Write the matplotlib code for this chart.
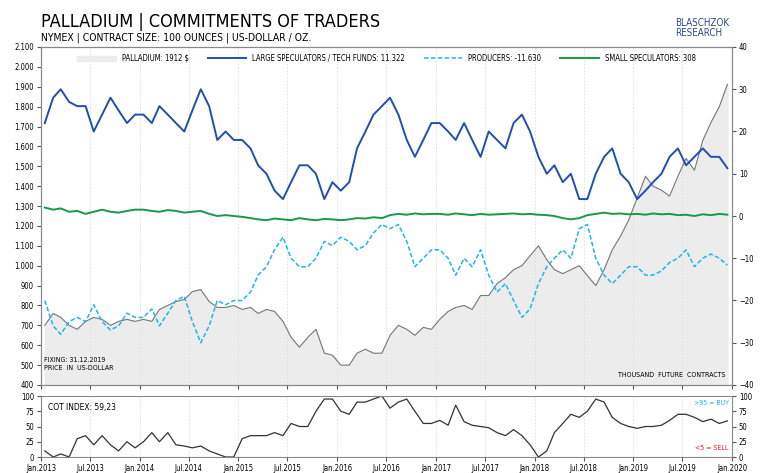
import matplotlib
matplotlib.use("Agg")
import matplotlib.pyplot as plt
import numpy as np
import pandas as pd

plt.rcParams['font.family'] = ['DejaVu Sans']
plt.rcParams['font.stretch'] = 'condensed'

dates = pd.date_range("2013-01-01", periods=84, freq="MS") + pd.Timedelta(days=14)
price = [700,760,740,700,680,720,740,730,700,720,730,720,
         730,720,780,800,820,830,870,880,820,790,790,800,
         780,790,760,780,770,720,640,590,640,680,560,550,
         500,500,560,580,560,560,650,700,680,650,690,680,
         730,770,790,800,780,850,850,910,940,980,1000,1050,
         1100,1030,980,960,980,1000,950,900,980,1080,1150,1230,
         1340,1450,1400,1380,1350,1450,1540,1480,1630,1720,1800,1912]
large = [22,28,30,27,26,26,20,24,28,25,22,24,
         24,22,26,24,22,20,25,30,26,18,20,18,
         18,16,12,10,6,4,8,12,12,10,4,8,
         6,8,16,20,24,26,28,24,18,14,18,22,
         22,20,18,22,18,14,20,18,16,22,24,20,
         14,10,12,8,10,4,4,10,14,16,10,8,
         4,6,8,10,14,16,12,14,16,14,14,11.3]
producers = [-20,-26,-28,-25,-24,-25,-21,-25,-27,-26,-23,-24,
             -24,-22,-26,-23,-20,-19,-25,-30,-26,-20,-21,-20,
             -20,-18,-14,-12,-8,-5,-10,-12,-12,-10,-6,-7,
             -5,-6,-8,-7,-4,-2,-3,-2,-6,-12,-10,-8,
             -8,-10,-14,-10,-12,-8,-14,-18,-16,-20,-24,-22,
             -16,-12,-10,-8,-10,-3,-2,-10,-14,-16,-14,-12,
             -12,-14,-14,-13,-11,-10,-8,-12,-10,-9,-10,-11.63]
small = [2,1.5,1.8,1,1.2,0.5,1,1.5,1,0.8,1.2,1.5,
         1.5,1.2,1,1.4,1.2,0.8,1,1.2,0.5,0,0.2,0,
         -0.2,-0.5,-0.8,-1,-0.6,-0.8,-1,-0.5,-0.8,-1,-0.7,-0.8,
         -1,-0.8,-0.5,-0.6,-0.3,-0.5,0.2,0.5,0.3,0.6,0.4,0.5,
         0.5,0.3,0.6,0.4,0.2,0.5,0.3,0.4,0.5,0.6,0.4,0.5,
         0.3,0.2,0,-0.5,-0.8,-0.5,0.2,0.5,0.8,0.5,0.6,0.4,
         0.5,0.3,0.6,0.4,0.5,0.2,0.3,0,0.4,0.2,0.5,0.308]
cot = [10,0,5,0,30,35,20,35,20,10,25,15,
       25,40,25,40,20,18,15,18,10,5,0,0,
       30,35,35,35,40,35,55,50,50,75,95,95,
       75,70,90,90,95,100,80,90,95,75,55,55,
       60,52,85,58,52,50,48,40,35,45,35,20,
       0,10,40,55,70,65,75,95,90,65,55,50,
       47,50,50,52,60,70,70,65,58,62,55,59.23]
xticks = pd.date_range("2013-01-01", "2020-01-01", freq="6MS")
xlabels = [("Jul" if d.month == 7 else "Jan") + "." + str(d.year) for d in xticks]

fig = plt.figure(figsize=(7.68, 4.73), dpi=100)
W, H = 768, 473
ax = fig.add_axes([41/W, 1-385/H, (732-41)/W, (385-47)/H])
ax2 = ax.twinx()
axc = fig.add_axes([41/W, 1-457/H, (732-41)/W, (457-396)/H])

xmin, xmax = pd.Timestamp("2013-01-01"), pd.Timestamp("2020-01-01")
ax.fill_between(dates, 400, price, color="#ececec", zorder=1)
ax.plot(dates, price, color="#777777", lw=0.8, zorder=2)
ax.set_ylim(400, 2100)
ax.set_yticks(range(400, 2101, 100))
ax.set_yticklabels([f"{v:,}".replace(",", ".") for v in range(400, 2101, 100)])
ax2.plot(dates, large, color="#1f4fb0", lw=1.4)
ax2.plot(dates, producers, color="#1fb6e8", lw=1.1, ls=(0, (3, 1.5)))
ax2.plot(dates, small, color="#18994a", lw=1.4)
ax2.set_ylim(-40, 40)
ax2.set_yticks(range(-40, 41, 10))
ax.set_zorder(ax2.get_zorder() - 1); ax2.patch.set_visible(False)
for a in (ax, ax2, axc):
    a.set_xlim(xmin, xmax)
    a.tick_params(labelsize=5.5, length=3, color="#555555", pad=2)
    for s in a.spines.values():
        s.set_color("#888888")
ax.set_xticks(xticks); ax.set_xticklabels([])
ax.grid(axis="x", color="#dddddd", ls=(0, (2, 2)), lw=0.6)

axc.plot(dates, cot, color="#333333", lw=0.9)
axc.set_ylim(0, 100)
axc.set_yticks([0, 25, 50, 75, 100])
axc.tick_params(right=True, labelright=True)
axc.set_xticks(xticks); axc.set_xticklabels(xlabels)
axc.grid(axis="x", color="#dddddd", ls=(0, (2, 2)), lw=0.6)
axc.text(0.01, 0.88, "COT INDEX: 59,23", transform=axc.transAxes, fontsize=6, va="top")
axc.text(0.995, 0.93, ">95 = BUY", transform=axc.transAxes, fontsize=5, color="#1fb6e8", ha="right", va="top")
axc.text(0.995, 0.1, "<5 = SELL", transform=axc.transAxes, fontsize=5, color="#e02020", ha="right", va="bottom")

ax.text(0.005, 0.04, "FIXING: 31.12.2019\nPRICE  IN  US-DOLLAR", transform=ax.transAxes, fontsize=5, va="bottom", linespacing=1.5)
ax.text(0.99, 0.02, "THOUSAND  FUTURE  CONTRACTS", transform=ax.transAxes, fontsize=5, ha="right", va="bottom")

from matplotlib.patches import Patch
from matplotlib.lines import Line2D
handles = [Patch(color="#ececec"), Line2D([], [], color="#1f4fb0", lw=1.4),
           Line2D([], [], color="#1fb6e8", lw=1.1, ls=(0, (3, 1.5))), Line2D([], [], color="#18994a", lw=1.4)]
labels = ["PALLADIUM: 1912 $", "LARGE SPECULATORS / TECH FUNDS: 11.322", "PRODUCERS: -11.630", "SMALL SPECULATORS: 308"]
ax2.legend(handles, labels, loc="upper center", ncol=4, frameon=False, fontsize=5.5, handlelength=5, columnspacing=2.5,
           bbox_to_anchor=(0.5, 1.0))

fig.text(41/W, 1-22/H, "PALLADIUM | COMMITMENTS OF TRADERS", fontsize=13, va="center")
fig.text(41/W, 1-38/H, "NYMEX | CONTRACT SIZE: 100 OUNCES | US-DOLLAR / OZ.", fontsize=7.5, va="center")
fig.text(675/W, 1-28/H, "BLASCHZOK\nRESEARCH", fontsize=7, color="#2a4a8a", va="center", linespacing=0.9)
fig.savefig("out.png", dpi=100)
